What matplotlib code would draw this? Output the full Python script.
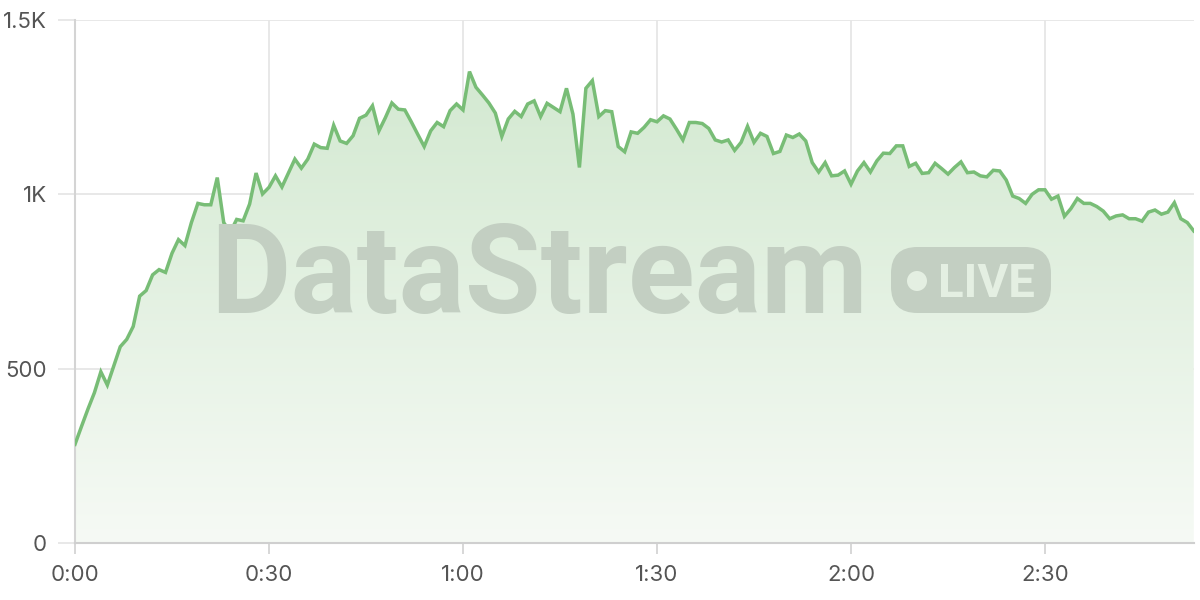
import matplotlib.pyplot as plt
import numpy as np
from matplotlib.patches import FancyBboxPatch, Ellipse

# valeurs (une par seconde)
seconds = np.arange(174)
viewers = [
    283, 334, 384, 431, 491, 453, 508, 563, 584, 621,
    708, 724, 769, 784, 776, 831, 870, 853, 919, 974,
    970, 970, 1048, 919, 891, 928, 924, 972, 1061, 1001,
    1020, 1053, 1021, 1061, 1101, 1075, 1101, 1144, 1134, 1132,
    1198, 1153, 1146, 1168, 1218, 1227, 1254, 1182, 1220, 1262,
    1244, 1242, 1208, 1172, 1137, 1182, 1206, 1194, 1240, 1259,
    1242, 1352, 1307, 1285, 1262, 1233, 1166, 1216, 1238, 1223,
    1259, 1268, 1223, 1261, 1249, 1237, 1304, 1230, 1077, 1304,
    1326, 1223, 1240, 1237, 1137, 1122, 1179, 1175, 1192, 1214,
    1208, 1225, 1216, 1187, 1156, 1206, 1206, 1203, 1189, 1156,
    1150, 1156, 1126, 1149, 1195, 1149, 1175, 1166, 1117, 1123,
    1170, 1163, 1173, 1153, 1091, 1064, 1091, 1053, 1055, 1067,
    1029, 1067, 1091, 1064, 1096, 1118, 1117, 1139, 1139, 1080,
    1089, 1060, 1062, 1089, 1074, 1058, 1077, 1093, 1062, 1064,
    1053, 1050, 1069, 1067, 1041, 995, 988, 974, 1000, 1013,
    1013, 986, 995, 937, 959, 988, 974, 974, 965, 952,
    930, 938, 941, 930, 930, 923, 949, 955, 943, 949,
    976, 930, 919, 895,
]
x_ticks = [0, 30, 60, 90, 120, 150]
y_ticks = [0, 500, 1000, 1500]
y_labels = ['0', '500', '1K', '1.5K']

plt.rcParams['font.family'] = ['Inter', 'DejaVu Sans']

fig = plt.figure(figsize=(12, 6), dpi=100)
ax = fig.add_axes([0.0625, 0.095, 0.9323, 0.8717])

ligne = '#78bd76'

# remplissage en dégradé sous la courbe
poly = ax.fill_between(seconds, viewers, 0, color='none', lw=0)
grad = np.linspace(0, 1, 256).reshape(-1, 1)
cmap = plt.matplotlib.colors.LinearSegmentedColormap.from_list(
    'vert', ['#f6faf5', '#d3e9d1'])
img = ax.imshow(grad, cmap=cmap, origin='lower', aspect='auto',
                extent=[0, seconds[-1], 0, max(viewers)], zorder=1)
img.set_clip_path(poly.get_paths()[0], transform=ax.transData)

ax.plot(seconds, viewers, color=ligne, lw=2.5, zorder=4, solid_joinstyle='miter')

ax.set_xlim(0, seconds[-1])
ax.set_ylim(0, 1500)
ax.set_xticks(x_ticks)
ax.set_xticklabels([f'{t // 60}:{t % 60:02d}' for t in x_ticks])
ax.set_yticks(y_ticks)
ax.set_yticklabels(y_labels)

ax.grid(True, color='#e6e6e6', lw=1.3, zorder=0)
ax.set_axisbelow(True)
for s in ['top', 'right']:
    ax.spines[s].set_visible(False)
ax.spines['left'].set_color('#d4d4d4')
ax.spines['left'].set_linewidth(1.5)
ax.spines['bottom'].set_color('#cfcfcf')
ax.spines['bottom'].set_linewidth(1.5)
ax.tick_params(axis='y', length=12, width=1.3, color='#e6e6e6', pad=8,
               labelsize=16, labelcolor='#555555')
ax.tick_params(axis='x', length=8, width=1.3, color='#d4d4d4', pad=8,
               labelsize=16, labelcolor='#555555')

# filigrane
wm = '#c3cfc2'
fig.text(210 / 1200, 1 - 313 / 600, 'DataStream', fontsize=89, fontweight='bold',
         family='Roboto', color=wm, ha='left', va='baseline', zorder=3)
badge = FancyBboxPatch((891 / 1200, 1 - 313 / 600), 160 / 1200, 66 / 600,
                       boxstyle='round,pad=0,rounding_size=0.022',
                       transform=fig.transFigure, fc=wm, ec='none', zorder=3,
                       mutation_aspect=2)
fig.patches.append(badge)
fig.patches.append(Ellipse((917 / 1200, 1 - 281 / 600), 20 / 1200, 20 / 600,
                           transform=fig.transFigure, fc='#e4efe2', ec='none',
                           zorder=3))
fig.text(938 / 1200, 1 - 297 / 600, 'LIVE', fontsize=34, fontweight='bold',
         family='Roboto', color='#e4efe2', ha='left', va='baseline', zorder=3)

fig.savefig('out.png', dpi=100)
